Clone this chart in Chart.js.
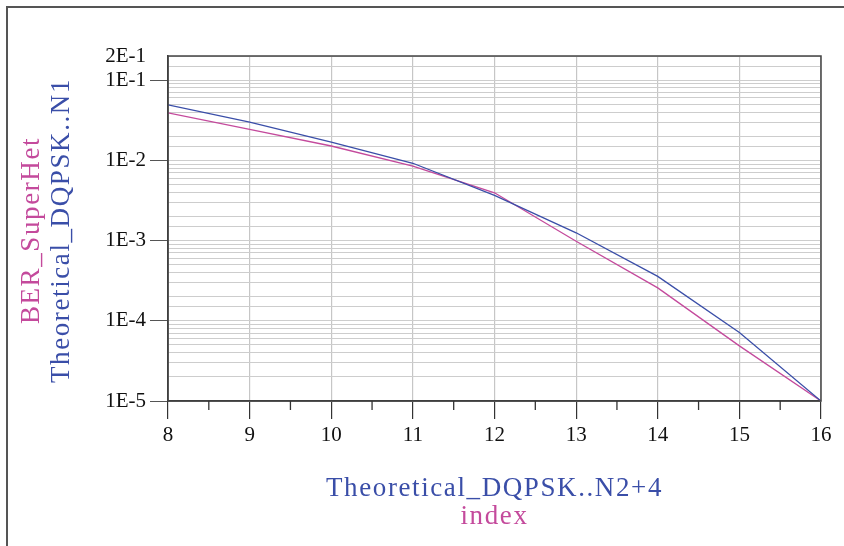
<!DOCTYPE html>
<html>
<head>
<meta charset="utf-8">
<script src="https://cdn.jsdelivr.net/npm/chart.js@4"></script>
<style>
  html, body { margin: 0; padding: 0; background: #fff; }
  canvas { display: block; }
</style>
</head>
<body>
<canvas id="berChart" width="844" height="546"></canvas>
<script>
// values
const xValues = [8, 9, 10, 11, 12, 13, 14, 15, 16];
const berSuperHet = [0.0391, 0.0244, 0.0151, 0.0085, 0.00394, 0.00098, 0.000257, 0.0000487, 0.00001];
const theoreticalN1 = [0.0493, 0.0299, 0.0169, 0.0092, 0.00365, 0.00125, 0.000358, 0.0000715, 0.00001];
const yTickLabels = { '0.2': '2E-1', '0.1': '1E-1', '0.01': '1E-2', '0.001': '1E-3', '0.0001': '1E-4', '0.00001': '1E-5' };

const BLUE = '#3a4ea8';
const MAGENTA = '#c44a9c';
const FONT = "'Liberation Serif', 'DejaVu Serif', serif";

function isDecade(v) {
    const e = Math.log10(v);
    return Math.abs(e - Math.round(e)) < 1e-9;
}

// frame, minor x ticks and axis titles
const decorPlugin = {
    id: 'decor',
    afterDraw(chart) {
        const { ctx, chartArea: a } = chart;
        const xs = chart.scales.x;
        ctx.save();

        // outer frame (left + top)
        ctx.strokeStyle = '#555';
        ctx.lineWidth = 2;
        ctx.beginPath();
        ctx.moveTo(7, 546);
        ctx.lineTo(7, 7);
        ctx.lineTo(844, 7);
        ctx.stroke();

        // plot box
        ctx.strokeStyle = '#444';
        ctx.lineWidth = 1.5;
        ctx.strokeRect(a.left, a.top, a.right - a.left, a.bottom - a.top);

        // half-step ticks under x axis
        ctx.strokeStyle = '#333';
        ctx.lineWidth = 1.3;
        for (let v = 8.5; v < 16; v += 1) {
            const px = xs.getPixelForValue(v);
            ctx.beginPath();
            ctx.moveTo(px, a.bottom);
            ctx.lineTo(px, a.bottom + 9);
            ctx.stroke();
        }

        ctx.font = '27px ' + FONT;
        ctx.letterSpacing = '1.6px';
        ctx.textAlign = 'center';
        ctx.textBaseline = 'middle';
        const cx = (a.left + a.right) / 2;
        ctx.fillStyle = BLUE;
        ctx.fillText('Theoretical_DQPSK..N2+4', cx, 489);
        ctx.fillStyle = MAGENTA;
        ctx.fillText('index', cx, 517);

        const cy = (a.top + a.bottom) / 2 + 2;
        ctx.translate(0, cy);
        ctx.rotate(-Math.PI / 2);
        ctx.fillStyle = MAGENTA;
        ctx.fillText('BER_SuperHet', 0, 32);
        ctx.fillStyle = BLUE;
        ctx.fillText('Theoretical_DQPSK..N1', 0, 62);
        ctx.restore();
    }
};

const ctx = document.getElementById('berChart').getContext('2d');

new Chart(ctx, {
    type: 'line',
    data: {
        datasets: [{
            label: 'Theoretical_DQPSK..N1',
            data: xValues.map((x, i) => ({ x: x, y: theoreticalN1[i] })),
            borderColor: BLUE,
            borderWidth: 1.3,
            pointRadius: 0,
            tension: 0
        }, {
            label: 'BER_SuperHet',
            data: xValues.map((x, i) => ({ x: x, y: berSuperHet[i] })),
            borderColor: MAGENTA,
            borderWidth: 1.3,
            pointRadius: 0,
            tension: 0
        }]
    },
    options: {
        responsive: false,
        animation: false,
        layout: {
            padding: { top: 56, right: 23, left: 0, bottom: 0 }
        },
        plugins: {
            legend: { display: false },
            tooltip: { enabled: false }
        },
        scales: {
            x: {
                type: 'linear',
                min: 8,
                max: 16,
                afterFit: (scale) => { scale.height = 145; },
                border: { color: '#333', width: 1.5 },
                grid: {
                    color: '#c6c6c6',
                    lineWidth: 1.2,
                    tickColor: '#333',
                    tickLength: 18
                },
                ticks: {
                    stepSize: 1,
                    color: '#111',
                    padding: 4,
                    font: { family: FONT, size: 21 }
                }
            },
            y: {
                type: 'logarithmic',
                min: 0.00001,
                max: 0.2,
                afterFit: (scale) => { scale.width = 168; },
                border: { color: '#333', width: 1.5 },
                grid: {
                    color: '#cdcdcd',
                    lineWidth: 1,
                    tickLength: 18,
                    tickColor: (c) => (c.tick && isDecade(c.tick.value)) ? '#555' : 'rgba(0,0,0,0)'
                },
                ticks: {
                    autoSkip: false,
                    color: '#111',
                    padding: 4,
                    font: { family: FONT, size: 21 },
                    callback: (value) => {
                        const key = String(Number(value.toPrecision(6)));
                        return yTickLabels[key] || '';
                    }
                }
            }
        }
    },
    plugins: [decorPlugin]
});
</script>
</body>
</html>
